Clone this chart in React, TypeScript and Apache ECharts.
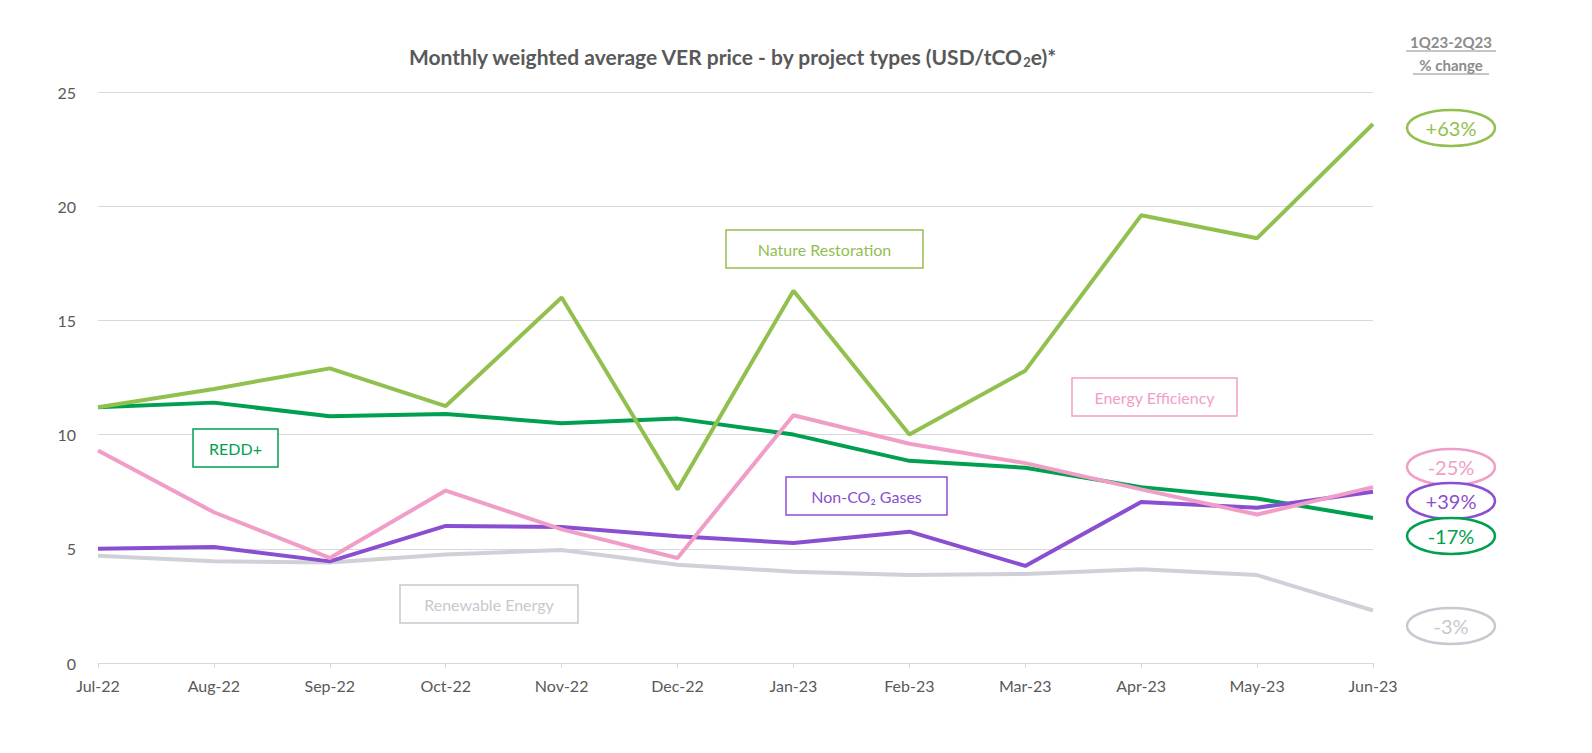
import * as echarts from 'echarts';
import React, { useEffect, useRef } from 'react';

const months = ['Jul-22', 'Aug-22', 'Sep-22', 'Oct-22', 'Nov-22', 'Dec-22', 'Jan-23', 'Feb-23', 'Mar-23', 'Apr-23', 'May-23', 'Jun-23'];
const natureRestoration = [11.2, 12.0, 12.9, 11.25, 16.0, 7.6, 16.3, 10.0, 12.8, 19.6, 18.6, 23.6];
const redd = [11.2, 11.4, 10.8, 10.9, 10.5, 10.7, 10.0, 8.85, 8.55, 7.7, 7.2, 6.35];
const energyEfficiency = [9.3, 6.6, 4.6, 7.55, 5.85, 4.6, 10.85, 9.6, 8.75, 7.6, 6.5, 7.7];
const nonCo2 = [5.0, 5.08, 4.45, 6.0, 5.95, 5.55, 5.25, 5.75, 4.25, 7.05, 6.8, 7.5];
const renewable = [4.7, 4.45, 4.4, 4.75, 4.95, 4.3, 4.0, 3.85, 3.9, 4.1, 3.85, 2.3];

const changes = [
  { text: '+63%', color: '#92c04f', y: 128 },
  { text: '-25%', color: '#f09ec8', y: 467 },
  { text: '+39%', color: '#8a4fd0', y: 501 },
  { text: '-17%', color: '#00a050', y: 536 },
  { text: '-3%', color: '#c8c8d0', y: 626 },
];
const boxes = [
  { text: 'Nature Restoration', color: '#92c04f', x: 726, y: 230, w: 197 },
  { text: 'Energy Efficiency', color: '#f09ec8', x: 1072, y: 378, w: 165 },
  { text: 'REDD+', color: '#00a050', x: 193, y: 429, w: 85 },
  { text: 'Non-CO₂ Gases', color: '#8a4fd0', x: 786, y: 477, w: 161 },
  { text: 'Renewable Energy', color: '#c8c8d0', x: 400, y: 585, w: 178 },
];

const FONT = 'Lato, "Open Sans", sans-serif';

const App: React.FC = () => {
  const ref = useRef<HTMLDivElement>(null);
  useEffect(() => {
    document.body.style.margin = '0';
    if (!ref.current) return undefined;
    const chart = echarts.init(ref.current, undefined, { renderer: 'svg' });
    const line = (name: string, data: number[], color: string) => ({
      name, type: 'line', data, symbol: 'none', lineStyle: { color, width: 4 }, itemStyle: { color },
    });
    const graphic: any[] = [];
    boxes.forEach((b) => {
      graphic.push({ type: 'rect', shape: { x: b.x, y: b.y, width: b.w, height: 38 }, style: { fill: '#fff', stroke: b.color, lineWidth: 1.5 }, z: 10 });
      graphic.push({ type: 'text', x: b.x + b.w / 2, y: b.y + 19, style: { text: b.text, fill: b.color, font: `16px ${FONT}`, align: 'center', verticalAlign: 'middle' }, z: 11 });
    });
    changes.forEach((c) => {
      graphic.push({ type: 'ellipse', shape: { cx: 1451, cy: c.y, rx: 44, ry: 18 }, style: { fill: '#fff', stroke: c.color, lineWidth: 2.5 }, z: 10 });
      graphic.push({ type: 'text', x: 1451, y: c.y, style: { text: c.text, fill: c.color, font: `20px ${FONT}`, align: 'center', verticalAlign: 'middle' }, z: 11 });
    });
    graphic.push({ type: 'text', x: 1451, y: 42, style: { text: '1Q23-2Q23', fill: '#8c8c8c', font: `bold 15px ${FONT}`, align: 'center', verticalAlign: 'middle' } });
    graphic.push({ type: 'text', x: 1451, y: 65, style: { text: '% change', fill: '#8c8c8c', font: `bold 15px ${FONT}`, align: 'center', verticalAlign: 'middle' } });
    graphic.push({ type: 'line', shape: { x1: 1406, y1: 51, x2: 1496, y2: 51 }, style: { stroke: '#8c8c8c', lineWidth: 1 } });
    graphic.push({ type: 'line', shape: { x1: 1413, y1: 74, x2: 1489, y2: 74 }, style: { stroke: '#8c8c8c', lineWidth: 1 } });

    chart.setOption({
      animation: false,
      title: {
        text: '{t|Monthly weighted average VER price - by project types (USD/tCO}{s|2}{t|e)*}',
        left: 727, top: 40, textAlign: 'center',
        textStyle: { rich: { t: { fontSize: 21, fontWeight: 'bold', color: '#595959', fontFamily: FONT }, s: { fontSize: 13, fontWeight: 'bold', color: '#595959', fontFamily: FONT, padding: [10, 0, 0, 0] } } },
      },
      grid: { left: 98, right: 219, top: 92, bottom: 90 },
      xAxis: {
        type: 'category', data: months, boundaryGap: false,
        axisLine: { lineStyle: { color: '#d9d9d9' } },
        axisTick: { show: true, lineStyle: { color: '#d9d9d9' } },
        axisLabel: { color: '#595959', fontSize: 16, fontFamily: FONT, margin: 14 },
      },
      yAxis: {
        type: 'value', min: 0, max: 25, interval: 5,
        axisLabel: { color: '#595959', fontSize: 16, fontFamily: FONT, margin: 22 },
        splitLine: { lineStyle: { color: '#d9d9d9', width: 1 } },
      },
      series: [
        line('Renewable Energy', renewable, '#d0d0d8'),
        line('REDD+', redd, '#00a050'),
        line('Nature Restoration', natureRestoration, '#92c04f'),
        line('Non-CO2 Gases', nonCo2, '#8a4fd0'),
        line('Energy Efficiency', energyEfficiency, '#f09ec8'),
      ],
      graphic,
    });
    return () => chart.dispose();
  }, []);
  return <div ref={ref} style={{ width: 1592, height: 753 }} />;
};

export default App;
